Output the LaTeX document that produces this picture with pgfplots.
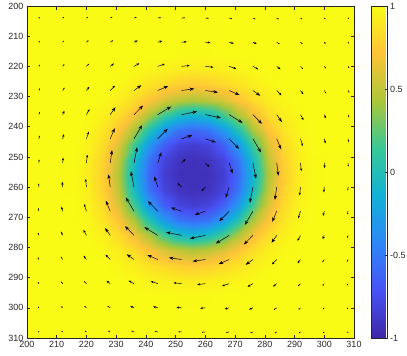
\documentclass[border=0pt]{standalone}
\usepackage{fontspec}
\setmainfont{Liberation Sans}
\usepackage{pgfplots}
\pgfplotsset{compat=1.18}
\usetikzlibrary{arrows.meta}
\definecolor{axgray}{rgb}{0.15,0.15,0.15}
\pgfkeys{/pgf/number format/assume math mode=true}
% parula, 8 samples
\pgfplotsset{colormap={parula}{rgb=(0.2422,0.1504,0.6603) rgb=(0.2810,0.3228,0.9579)
  rgb=(0.1786,0.5289,0.9682) rgb=(0.0689,0.6948,0.8394) rgb=(0.2161,0.7843,0.5923)
  rgb=(0.6720,0.7793,0.2227) rgb=(0.9970,0.7659,0.2199) rgb=(0.9769,0.9839,0.0805)}}
\newcommand{\tickfont}{\fontsize{9}{10}\selectfont}

\begin{document}
\begin{tikzpicture}
\useasboundingbox (-27pt,-18pt) rectangle (380pt,338pt);
\begin{axis}[
  at={(0,0)}, anchor=south west,
  scale only axis, width=327pt, height=332pt,
  xmin=200, xmax=310, ymin=200, ymax=310,
  y dir=reverse, enlargelimits=false,
  xtick={200,210,...,310}, ytick={200,210,...,310},
  tick align=inside, major tick length=3.5pt,
  axis on top,
  axis line style={axgray, line width=0.5pt},
  every tick/.style={axgray, line width=0.5pt},
  tick label style={font=\tickfont, text=axgray},
  colormap name=parula,
  point meta min=-1, point meta max=1,
  colorbar,
  colorbar style={
    at={(parent axis.north east)}, anchor=north west, xshift=9pt,
    width=16pt,
    ytick={-1,-0.5,0,0.5,1},
    ytick pos=right, yticklabel pos=right,
    tick align=inside, major tick length=3pt,
    axis line style={axgray, line width=0.5pt},
    every tick/.style={axgray, line width=0.5pt},
    tick label style={font=\tickfont, text=axgray},
    yticklabel style={xshift=-1pt},
  },
]

% scalar field
\addplot[surf, shader=interp, point meta=explicit, mesh/cols=19] coordinates {
(200,200)[1] (216,200)[1] (221,200)[1] (226,200)[1] (231,200)[1] (236,200)[1] (241,200)[1] (246,200)[1] (251,200)[1] (256,200)[1] (261,200)[1] (266,200)[1] (271,200)[1] (276,200)[1] (281,200)[1] (286,200)[1] (291,200)[1] (296,200)[1] (310,200)[1]

(200,216)[1] (216,216)[1] (221,216)[1] (226,216)[1] (231,216)[1] (236,216)[1] (241,216)[1] (246,216)[1] (251,216)[0.99] (256,216)[0.99] (261,216)[0.99] (266,216)[1] (271,216)[1] (276,216)[1] (281,216)[1] (286,216)[1] (291,216)[1] (296,216)[1] (310,216)[1]

(200,221)[1] (216,221)[1] (221,221)[1] (226,221)[1] (231,221)[1] (236,221)[0.99] (241,221)[0.97] (246,221)[0.95] (251,221)[0.93] (256,221)[0.92] (261,221)[0.93] (266,221)[0.95] (271,221)[0.97] (276,221)[0.99] (281,221)[1] (286,221)[1] (291,221)[1] (296,221)[1] (310,221)[1]

(200,226)[1] (216,226)[1] (221,226)[1] (226,226)[1] (231,226)[0.98] (236,226)[0.94] (241,226)[0.88] (246,226)[0.83] (251,226)[0.78] (256,226)[0.76] (261,226)[0.78] (266,226)[0.83] (271,226)[0.88] (276,226)[0.94] (281,226)[0.98] (286,226)[1] (291,226)[1] (296,226)[1] (310,226)[1]

(200,231)[1] (216,231)[1] (221,231)[1] (226,231)[0.98] (231,231)[0.93] (236,231)[0.84] (241,231)[0.72] (246,231)[0.58] (251,231)[0.49] (256,231)[0.44] (261,231)[0.49] (266,231)[0.58] (271,231)[0.72] (276,231)[0.84] (281,231)[0.93] (286,231)[0.98] (291,231)[1] (296,231)[1] (310,231)[1]

(200,236)[1] (216,236)[1] (221,236)[0.99] (226,236)[0.94] (231,236)[0.84] (236,236)[0.68] (241,236)[0.44] (246,236)[0.16] (251,236)[-0.04] (256,236)[-0.11] (261,236)[-0.04] (266,236)[0.16] (271,236)[0.44] (276,236)[0.68] (281,236)[0.84] (286,236)[0.94] (291,236)[0.99] (296,236)[1] (310,236)[1]

(200,241)[1] (216,241)[1] (221,241)[0.97] (226,241)[0.88] (231,241)[0.72] (236,241)[0.44] (241,241)[0.03] (246,241)[-0.32] (251,241)[-0.53] (256,241)[-0.59] (261,241)[-0.53] (266,241)[-0.32] (271,241)[0.03] (276,241)[0.44] (281,241)[0.72] (286,241)[0.88] (291,241)[0.97] (296,241)[1] (310,241)[1]

(200,246)[1] (216,246)[1] (221,246)[0.95] (226,246)[0.83] (231,246)[0.58] (236,246)[0.16] (241,246)[-0.32] (246,246)[-0.65] (251,246)[-0.81] (256,246)[-0.85] (261,246)[-0.81] (266,246)[-0.65] (271,246)[-0.32] (276,246)[0.16] (281,246)[0.58] (286,246)[0.83] (291,246)[0.95] (296,246)[1] (310,246)[1]

(200,251)[1] (216,251)[0.99] (221,251)[0.93] (226,251)[0.78] (231,251)[0.49] (236,251)[-0.04] (241,251)[-0.53] (246,251)[-0.81] (251,251)[-0.91] (256,251)[-0.93] (261,251)[-0.91] (266,251)[-0.81] (271,251)[-0.53] (276,251)[-0.04] (281,251)[0.49] (286,251)[0.78] (291,251)[0.93] (296,251)[0.99] (310,251)[1]

(200,256)[1] (216,256)[0.99] (221,256)[0.92] (226,256)[0.76] (231,256)[0.44] (236,256)[-0.11] (241,256)[-0.59] (246,256)[-0.85] (251,256)[-0.93] (256,256)[-0.94] (261,256)[-0.93] (266,256)[-0.85] (271,256)[-0.59] (276,256)[-0.11] (281,256)[0.44] (286,256)[0.76] (291,256)[0.92] (296,256)[0.99] (310,256)[1]

(200,261)[1] (216,261)[0.99] (221,261)[0.93] (226,261)[0.78] (231,261)[0.49] (236,261)[-0.04] (241,261)[-0.53] (246,261)[-0.81] (251,261)[-0.91] (256,261)[-0.93] (261,261)[-0.91] (266,261)[-0.81] (271,261)[-0.53] (276,261)[-0.04] (281,261)[0.49] (286,261)[0.78] (291,261)[0.93] (296,261)[0.99] (310,261)[1]

(200,266)[1] (216,266)[1] (221,266)[0.95] (226,266)[0.83] (231,266)[0.58] (236,266)[0.16] (241,266)[-0.32] (246,266)[-0.65] (251,266)[-0.81] (256,266)[-0.85] (261,266)[-0.81] (266,266)[-0.65] (271,266)[-0.32] (276,266)[0.16] (281,266)[0.58] (286,266)[0.83] (291,266)[0.95] (296,266)[1] (310,266)[1]

(200,271)[1] (216,271)[1] (221,271)[0.97] (226,271)[0.88] (231,271)[0.72] (236,271)[0.44] (241,271)[0.03] (246,271)[-0.32] (251,271)[-0.53] (256,271)[-0.59] (261,271)[-0.53] (266,271)[-0.32] (271,271)[0.03] (276,271)[0.44] (281,271)[0.72] (286,271)[0.88] (291,271)[0.97] (296,271)[1] (310,271)[1]

(200,276)[1] (216,276)[1] (221,276)[0.99] (226,276)[0.94] (231,276)[0.84] (236,276)[0.68] (241,276)[0.44] (246,276)[0.16] (251,276)[-0.04] (256,276)[-0.11] (261,276)[-0.04] (266,276)[0.16] (271,276)[0.44] (276,276)[0.68] (281,276)[0.84] (286,276)[0.94] (291,276)[0.99] (296,276)[1] (310,276)[1]

(200,281)[1] (216,281)[1] (221,281)[1] (226,281)[0.98] (231,281)[0.93] (236,281)[0.84] (241,281)[0.72] (246,281)[0.58] (251,281)[0.49] (256,281)[0.44] (261,281)[0.49] (266,281)[0.58] (271,281)[0.72] (276,281)[0.84] (281,281)[0.93] (286,281)[0.98] (291,281)[1] (296,281)[1] (310,281)[1]

(200,286)[1] (216,286)[1] (221,286)[1] (226,286)[1] (231,286)[0.98] (236,286)[0.94] (241,286)[0.88] (246,286)[0.83] (251,286)[0.78] (256,286)[0.76] (261,286)[0.78] (266,286)[0.83] (271,286)[0.88] (276,286)[0.94] (281,286)[0.98] (286,286)[1] (291,286)[1] (296,286)[1] (310,286)[1]

(200,291)[1] (216,291)[1] (221,291)[1] (226,291)[1] (231,291)[1] (236,291)[0.99] (241,291)[0.97] (246,291)[0.95] (251,291)[0.93] (256,291)[0.92] (261,291)[0.93] (266,291)[0.95] (271,291)[0.97] (276,291)[0.99] (281,291)[1] (286,291)[1] (291,291)[1] (296,291)[1] (310,291)[1]

(200,296)[1] (216,296)[1] (221,296)[1] (226,296)[1] (231,296)[1] (236,296)[1] (241,296)[1] (246,296)[1] (251,296)[0.99] (256,296)[0.99] (261,296)[0.99] (266,296)[1] (271,296)[1] (276,296)[1] (281,296)[1] (286,296)[1] (291,296)[1] (296,296)[1] (310,296)[1]

(200,310)[1] (216,310)[1] (221,310)[1] (226,310)[1] (231,310)[1] (236,310)[1] (241,310)[1] (246,310)[1] (251,310)[1] (256,310)[1] (261,310)[1] (266,310)[1] (271,310)[1] (276,310)[1] (281,310)[1] (286,310)[1] (291,310)[1] (296,310)[1] (310,310)[1]
};

% long arrows
\addplot[black, line width=0.5pt, -{Stealth[length=4.5pt,width=3.2pt]},
  quiver={u=\thisrow{u}, v=\thisrow{v}}] table {
x y u v
260 268 -3.55 1.18
260 244 3.55 1.18
252 268 -3.55 -1.18
252 244 3.55 -1.18
268 260 -1.18 3.55
268 252 1.18 3.55
244 260 -1.18 -3.55
244 252 1.18 -3.55
260 276 -5.20 1.04
260 236 5.20 1.04
252 276 -5.20 -1.04
252 236 5.20 -1.04
276 260 -1.04 5.20
276 252 1.04 5.20
236 260 -1.04 -5.20
236 252 1.04 -5.20
260 284 -4.24 0.61
260 228 4.24 0.61
252 284 -4.24 -0.61
252 228 4.24 -0.61
284 260 -0.61 4.24
284 252 0.61 4.24
228 260 -0.61 -4.24
228 252 0.61 -4.24
268 268 -3.32 3.32
268 244 3.32 3.32
244 268 -3.32 -3.32
244 244 3.32 -3.32
268 276 -4.50 2.70
268 236 4.50 2.70
244 276 -4.50 -2.70
244 236 4.50 -2.70
276 268 -2.70 4.50
276 244 2.70 4.50
236 268 -2.70 -4.50
236 244 2.70 -4.50
268 284 -3.50 1.50
268 228 3.50 1.50
244 284 -3.50 -1.50
244 228 3.50 -1.50
284 268 -1.50 3.50
284 244 1.50 3.50
228 268 -1.50 -3.50
228 244 1.50 -3.50
276 276 -3.03 3.03
276 236 3.03 3.03
236 276 -3.03 -3.03
236 236 3.03 -3.03
276 284 -2.46 1.75
276 228 2.46 1.75
236 284 -2.46 -1.75
236 228 2.46 -1.75
284 276 -1.75 2.46
284 236 1.75 2.46
228 276 -1.75 -2.46
228 236 1.75 -2.46
};

% medium arrows
\addplot[black, line width=0.5pt, -{Stealth[length=2.8pt,width=2.2pt]},
  quiver={u=\thisrow{u}, v=\thisrow{v}}] table {
x y u v
260 260 -1.31 1.31
260 252 1.31 1.31
252 260 -1.31 -1.31
252 252 1.31 -1.31
260 292 -2.71 0.30
260 220 2.71 0.30
252 292 -2.71 -0.30
252 220 2.71 -0.30
292 260 -0.30 2.71
292 252 0.30 2.71
220 260 -0.30 -2.71
220 252 0.30 -2.71
260 300 -1.73 0.16
260 212 1.73 0.16
252 300 -1.73 -0.16
252 212 1.73 -0.16
300 260 -0.16 1.73
300 252 0.16 1.73
212 260 -0.16 -1.73
212 252 0.16 -1.73
268 292 -2.36 0.79
268 220 2.36 0.79
244 292 -2.36 -0.79
244 220 2.36 -0.79
292 268 -0.79 2.36
292 244 0.79 2.36
220 268 -0.79 -2.36
220 244 0.79 -2.36
268 300 -1.54 0.42
268 212 1.54 0.42
244 300 -1.54 -0.42
244 212 1.54 -0.42
300 268 -0.42 1.54
300 244 0.42 1.54
212 268 -0.42 -1.54
212 244 0.42 -1.54
276 292 -1.81 1.01
276 220 1.81 1.01
236 292 -1.81 -1.01
236 220 1.81 -1.01
292 276 -1.01 1.81
292 236 1.01 1.81
220 276 -1.01 -1.81
220 236 1.01 -1.81
276 300 -1.26 0.57
276 212 1.26 0.57
236 300 -1.26 -0.57
236 212 1.26 -0.57
300 276 -0.57 1.26
300 236 0.57 1.26
212 276 -0.57 -1.26
212 236 0.57 -1.26
284 284 -1.60 1.60
284 228 1.60 1.60
228 284 -1.60 -1.60
228 228 1.60 -1.60
284 292 -1.26 0.98
284 220 1.26 0.98
228 292 -1.26 -0.98
228 220 1.26 -0.98
292 284 -0.98 1.26
292 228 0.98 1.26
220 284 -0.98 -1.26
220 228 0.98 -1.26
};

% short arrows
\addplot[black, line width=0.5pt, -{Stealth[length=1.3pt,width=1.2pt]},
  quiver={u=\thisrow{u}, v=\thisrow{v}}] table {
x y u v
260 308 -1.12 0.09
260 204 1.12 0.09
252 308 -1.12 -0.09
252 204 1.12 -0.09
308 260 -0.09 1.12
308 252 0.09 1.12
204 260 -0.09 -1.12
204 252 0.09 -1.12
268 308 -1.02 0.24
268 204 1.02 0.24
244 308 -1.02 -0.24
244 204 1.02 -0.24
308 268 -0.24 1.02
308 244 0.24 1.02
204 268 -0.24 -1.02
204 244 0.24 -1.02
276 308 -0.86 0.33
276 204 0.86 0.33
236 308 -0.86 -0.33
236 204 0.86 -0.33
308 276 -0.33 0.86
308 236 0.33 0.86
204 276 -0.33 -0.86
204 236 0.33 -0.86
284 300 -0.95 0.60
284 212 0.95 0.60
228 300 -0.95 -0.60
228 212 0.95 -0.60
300 284 -0.60 0.95
300 228 0.60 0.95
212 284 -0.60 -0.95
212 228 0.60 -0.95
284 308 -0.69 0.37
284 204 0.69 0.37
228 308 -0.69 -0.37
228 204 0.69 -0.37
308 284 -0.37 0.69
308 228 0.37 0.69
204 284 -0.37 -0.69
204 228 0.37 -0.69
292 292 -0.84 0.84
292 220 0.84 0.84
220 292 -0.84 -0.84
220 220 0.84 -0.84
292 300 -0.68 0.55
292 212 0.68 0.55
220 300 -0.68 -0.55
220 212 0.68 -0.55
300 292 -0.55 0.68
300 220 0.55 0.68
212 292 -0.55 -0.68
212 220 0.55 -0.68
292 308 -0.54 0.37
292 204 0.54 0.37
220 308 -0.54 -0.37
220 204 0.54 -0.37
308 292 -0.37 0.54
308 220 0.37 0.54
204 292 -0.37 -0.54
204 220 0.37 -0.54
300 300 -0.48 0.48
300 212 0.48 0.48
212 300 -0.48 -0.48
212 212 0.48 -0.48
300 308 -0.39 0.33
300 204 0.39 0.33
212 308 -0.39 -0.33
212 204 0.39 -0.33
308 300 -0.33 0.39
308 212 0.33 0.39
204 300 -0.33 -0.39
204 212 0.33 -0.39
308 308 -0.28 0.28
308 204 0.28 0.28
204 308 -0.28 -0.28
204 204 0.28 -0.28
};

\end{axis}
\end{tikzpicture}
\end{document}
